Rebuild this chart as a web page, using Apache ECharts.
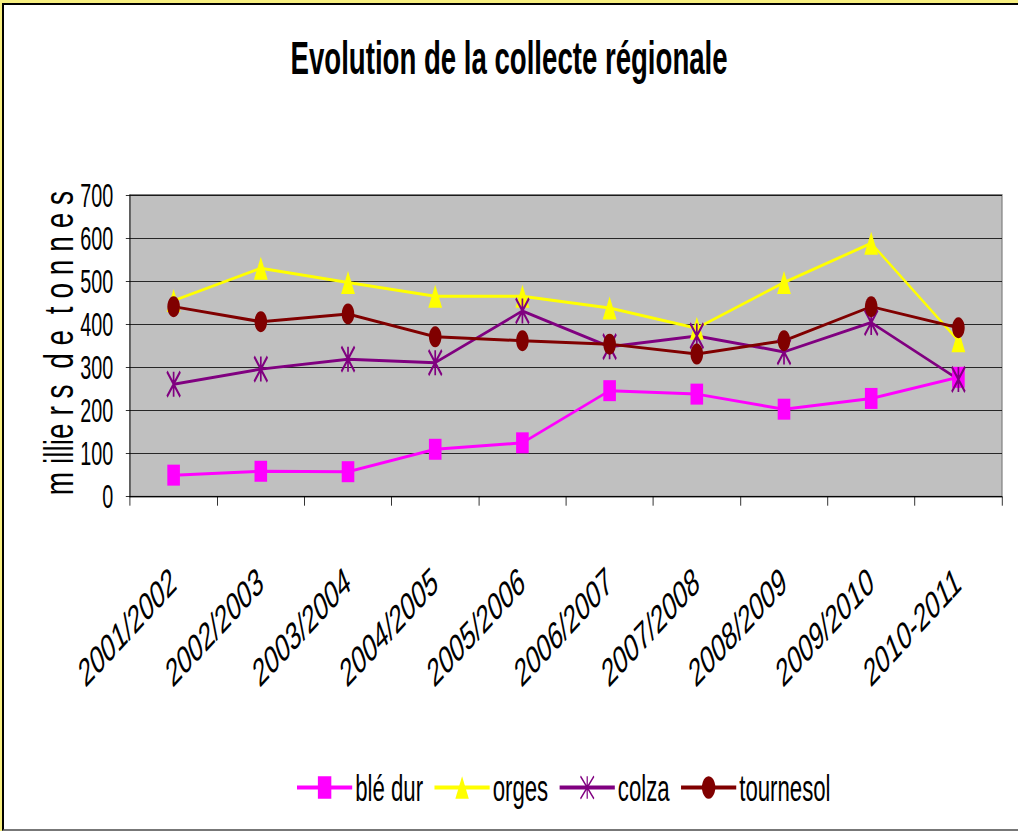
<!DOCTYPE html>
<html><head><meta charset="utf-8">
<script src="https://cdn.jsdelivr.net/npm/echarts@6/dist/echarts.min.js"></script>
<style>
html,body{margin:0;padding:0;overflow:hidden;background:#f7ef80;width:1018px;height:831px;}
#frame{position:absolute;left:2px;top:3px;width:1016px;height:828px;background:#fff;border-left:2px solid #000;border-top:2px solid #000;border-bottom:2px solid #777;box-sizing:border-box;}
#chart{position:absolute;left:0;top:0;width:1697px;height:831px;transform:scaleX(0.6);transform-origin:0 0;}
</style></head><body>
<div id="frame"></div><div id="chart"></div>
<script>
const titleText = 'Evolution de la collecte régionale';
const yAxisName = 'm illie r s\u00a0\u00a0d e\u00a0\u00a0t o n n e s';
const categories = ['2001/2002','2002/2003','2003/2004','2004/2005','2005/2006','2006/2007','2007/2008','2008/2009','2009/2010','2010-2011'];
const seriesNames = ['blé dur','orges','colza','tournesol'];
const bleDur    = [50, 59, 58, 110, 125, 246, 238, 203, 228, 277];
const orges     = [455, 530, 497, 465, 465, 438, 391, 497, 588, 362];
const colza     = [261, 296, 319, 311, 431, 348, 373, 336, 404, 272];
const tournesol = [441, 406, 424, 371, 362, 354, 331, 362, 441, 392];
const yTicks = {min: 0, max: 700, interval: 100};

const FONT = '"Liberation Sans", Arial, sans-serif';
const asterisk = 'path://M5 0 L5 10 M0 0 L10 10 M10 0 L0 10';

const chart = echarts.init(document.getElementById('chart'), null, {renderer: 'svg'});

function lineSeries(name, data, color, symbol, size, extraItem) {
  return {
    name: name, type: 'line', data: data,
    symbol: symbol, symbolSize: size, symbolKeepAspect: false,
    showAllSymbol: true,
    lineStyle: {color: color, width: 3},
    itemStyle: Object.assign({color: color}, extraItem || {}),
    emphasis: {disabled: true},
    animation: false
  };
}

chart.setOption({
  animation: false,
  title: {
    text: titleText, left: 'center', top: 30,
    textStyle: {fontFamily: FONT, fontSize: 46, fontWeight: 'bold', color: '#000'}
  },
  legend: {
    left: 488, top: 764,
    itemWidth: 92, itemHeight: 28, itemGap: 17,
    lineStyle: {width: 4},
    textStyle: {fontFamily: FONT, fontSize: 37, color: '#000'},
    data: seriesNames
  },
  grid: {
    left: 216.7, right: 27, top: 195, bottom: 334.3,
    show: true, backgroundColor: '#c0c0c0', borderColor: '#808080', borderWidth: 2
  },
  xAxis: {
    type: 'category', data: categories, boundaryGap: true,
    axisLine: {lineStyle: {color: '#000', width: 1}},
    axisTick: {show: true, length: 9, lineStyle: {color: '#000'}},
    axisLabel: {rotate: 33, margin: 80, fontFamily: FONT, fontSize: 39, color: '#000', interval: 0}
  },
  yAxis: {
    type: 'value', min: yTicks.min, max: yTicks.max, interval: yTicks.interval,
    axisLine: {show: true, lineStyle: {color: '#000', width: 1}},
    axisTick: {show: true, length: 7, lineStyle: {color: '#000'}},
    axisLabel: {margin: 28, fontFamily: FONT, fontSize: 33, color: '#000'},
    splitLine: {show: true, lineStyle: {color: '#000', width: 1}}
  },
  graphic: [{
    type: 'text', x: 97, y: 343, rotation: Math.PI / 2, scaleX: 0.78, scaleY: 1.9,
    style: {text: yAxisName, fontFamily: FONT, fontSize: 36, fill: '#000', align: 'center', verticalAlign: 'middle'}
  }],
  series: [
    lineSeries(seriesNames[0], bleDur, '#ff00ff', 'rect', 21),
    lineSeries(seriesNames[1], orges, '#ffff00', 'triangle', 23),
    lineSeries(seriesNames[2], colza, '#800080', asterisk, [22, 25], {borderColor: '#800080', borderWidth: 3}),
    lineSeries(seriesNames[3], tournesol, '#800000', 'circle', 21)
  ]
});
</script>
</body></html>
